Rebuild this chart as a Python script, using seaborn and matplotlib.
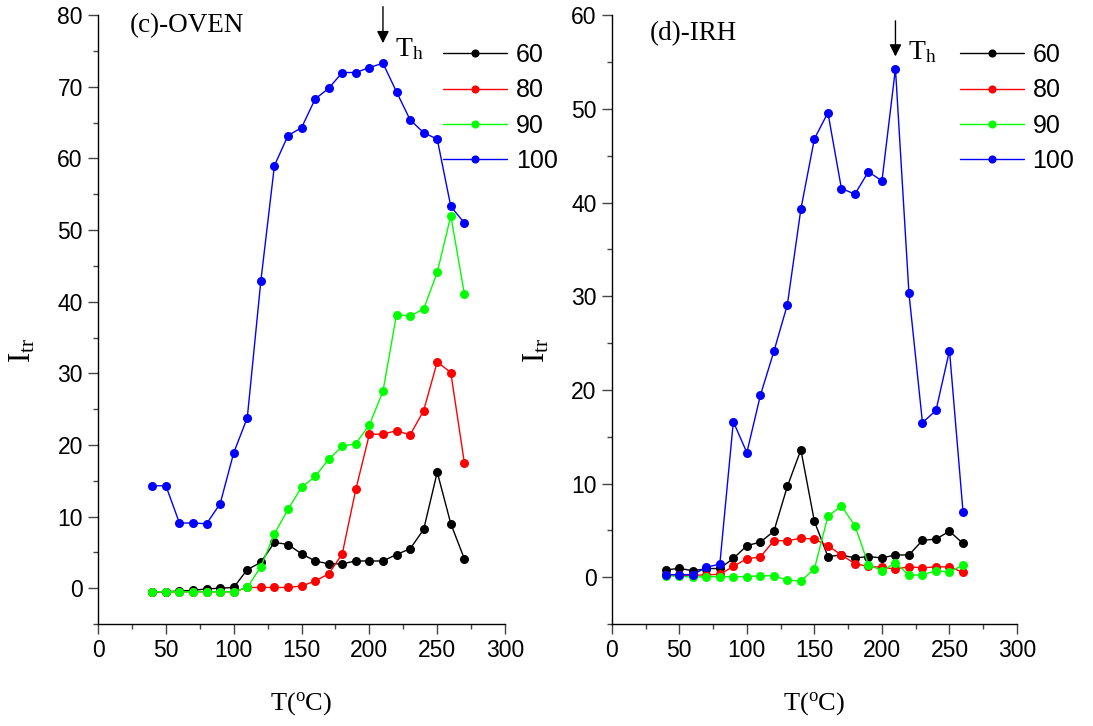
import numpy as np
import pandas as pd
import matplotlib
matplotlib.use("Agg")
import matplotlib.pyplot as plt
from matplotlib.ticker import MultipleLocator
import seaborn as sns

# ---------------- data ----------------
series_labels = ["60", "80", "90", "100"]
series_colors = ["#000000", "#ff0000", "#00ff00", "#0000ff"]

oven_T = [40, 50, 60, 70, 80, 90, 100, 110, 120, 130, 140, 150, 160, 170,
          180, 190, 200, 210, 220, 230, 240, 250, 260, 270]
oven_60 = [-0.5, -0.5, -0.4, -0.3, -0.1, 0.0, 0.1, 2.6, 3.6, 6.4, 6.1, 4.8,
           3.8, 3.4, 3.4, 3.8, 3.8, 3.8, 4.7, 5.5, 8.2, 16.2, 9.0, 4.1]
oven_80 = [-0.5, -0.5, -0.5, -0.5, -0.5, -0.5, -0.5, 0.1, 0.1, 0.1, 0.1, 0.3,
           1.0, 2.0, 4.8, 13.8, 21.5, 21.5, 22.0, 21.4, 24.8, 31.6, 30.1, 17.5]
oven_90 = [-0.5, -0.5, -0.5, -0.5, -0.5, -0.5, -0.5, 0.1, 3.0, 7.6, 11.0, 14.1,
           15.6, 18.0, 19.8, 20.2, 22.8, 27.5, 38.2, 38.0, 39.0, 44.1, 52.0, 41.1]
oven_100 = [14.3, 14.3, 9.1, 9.1, 9.0, 11.8, 18.9, 23.8, 42.9, 59.0, 63.2, 64.3,
            68.3, 69.8, 72.0, 72.0, 72.7, 73.3, 69.3, 65.4, 63.6, 62.7, 53.3, 51.0]

irh_T = [40, 50, 60, 70, 80, 90, 100, 110, 120, 130, 140, 150, 160, 170,
         180, 190, 200, 210, 220, 230, 240, 250, 260]
irh_60 = [0.77, 0.94, 0.69, 0.9, 0.94, 2.0, 3.36, 3.75, 4.9, 9.7, 13.6, 5.96,
          2.2, 2.37, 2.05, 2.2, 2.05, 2.37, 2.37, 3.93, 4.07, 4.9, 3.6]
irh_80 = [0.2, 0.2, 0.2, 0.25, 0.3, 1.15, 1.97, 2.15, 3.9, 3.9, 4.15, 4.07,
          3.36, 2.37, 1.44, 1.15, 1.05, 0.87, 1.1, 1.0, 1.1, 1.1, 0.52]
irh_90 = [0.15, 0.1, 0.0, 0.05, 0.05, 0.05, 0.05, 0.15, 0.15, -0.33, -0.4, 0.87,
          6.5, 7.6, 5.5, 1.33, 0.7, 1.5, 0.23, 0.23, 0.7, 0.55, 1.3]
irh_100 = [0.27, 0.27, 0.27, 1.05, 1.4, 16.6, 13.3, 19.4, 24.1, 29.1, 39.3, 46.8,
           49.6, 41.5, 40.9, 43.3, 42.3, 54.3, 30.3, 16.5, 17.8, 24.2, 7.0]

x_ticks = [0, 50, 100, 150, 200, 250, 300]
oven_yticks = [0, 10, 20, 30, 40, 50, 60, 70, 80]
irh_yticks = [0, 10, 20, 30, 40, 50, 60]
panel_titles = ["(c)-OVEN", "(d)-IRH"]
th_x = 210
oven_th_y = (76.1, 81.2)
irh_th_y = (55.6, 59.4)


def long_df(T, cols):
    frames = []
    for lab, vals in zip(series_labels, cols):
        frames.append(pd.DataFrame({"T": T, "I": vals, "s": lab}))
    return pd.concat(frames, ignore_index=True)


df_oven = long_df(oven_T, [oven_60, oven_80, oven_90, oven_100])
df_irh = long_df(irh_T, [irh_60, irh_80, irh_90, irh_100])

# ---------------- style ----------------
sns.set_style("ticks")
plt.rcParams["font.family"] = ["Liberation Sans", "DejaVu Sans"]
plt.rcParams["mathtext.fontset"] = "custom"
plt.rcParams["mathtext.rm"] = "Liberation Serif"
plt.rcParams["mathtext.it"] = "Liberation Serif:italic"
plt.rcParams["text.color"] = "black"

fig = plt.figure(figsize=(10.93, 7.26), dpi=100)
ax1 = fig.add_axes([0.0897, 0.1405, 0.3724, 0.8385])
ax2 = fig.add_axes([0.5597, 0.1405, 0.3708, 0.8385])

palette = dict(zip(series_labels, series_colors))
serif = "Liberation Serif"

configs = [
    (ax1, df_oven, (-5, 80), oven_yticks, oven_th_y, 0.848, 0.078, 0.972),
    (ax2, df_irh, (-5, 60), irh_yticks, irh_th_y, 0.859, 0.094, 0.959),
]

for i, (ax, df, ylim, yticks, thy, legx, tx, ty) in enumerate(configs):
    sns.lineplot(data=df, x="T", y="I", hue="s", hue_order=series_labels,
                 palette=palette, marker="o", markersize=6.5,
                 markeredgewidth=0, linewidth=1.0, estimator=None, sort=False,
                 legend=False, ax=ax)
    ax.set_xlim(0, 300)
    ax.set_ylim(*ylim)
    ax.set_xticks(x_ticks)
    ax.set_yticks(yticks)
    ax.xaxis.set_minor_locator(MultipleLocator(25))
    ax.yaxis.set_minor_locator(MultipleLocator(5))
    ax.tick_params(which="major", direction="out", length=7, width=1,
                   labelsize=16.5, pad=4, color="#444444", labelcolor="black")
    ax.tick_params(which="minor", direction="out", length=3.5, width=1,
                   color="#444444")
    for sp in ["top", "right"]:
        ax.spines[sp].set_visible(False)
    for sp in ["left", "bottom"]:
        ax.spines[sp].set_linewidth(1.0)
        ax.spines[sp].set_color("black")

    ax.set_xlabel(r"T($^{\rm o}$C)", fontsize=19, family=serif, va="center",
                  color="black")
    ax.xaxis.set_label_coords(0.5, -0.13)
    ax.set_ylabel(r"I$_{\rm tr}$", fontsize=22, family=serif, va="center",
                  color="black")
    ax.yaxis.set_label_coords(-0.185, 0.45)

    ax.text(tx, ty, panel_titles[i], transform=ax.transAxes, fontsize=19.5,
            family=serif, va="baseline", ha="left")

    ax.annotate("", xy=(th_x, thy[0]), xytext=(th_x, thy[1]),
                arrowprops=dict(arrowstyle="-|>", color="black", lw=1.0,
                                mutation_scale=18, shrinkA=0, shrinkB=0),
                annotation_clip=False)
    ax.text(th_x + 9, thy[0] - 1.8 if i == 0 else thy[0] - 0.3,
            r"T$_{\rm h}$", fontsize=20, family=serif, va="baseline",
            ha="left")

    leg = ax.legend(handles=ax.lines[:4], labels=series_labels,
                    loc="upper left", bbox_to_anchor=(legx, 0.954),
                    frameon=False, fontsize=18, handlelength=2.55,
                    handletextpad=0.35, labelspacing=0.45, borderpad=0,
                    borderaxespad=0, markerscale=0.9)

fig.savefig("out.png", dpi=100)
